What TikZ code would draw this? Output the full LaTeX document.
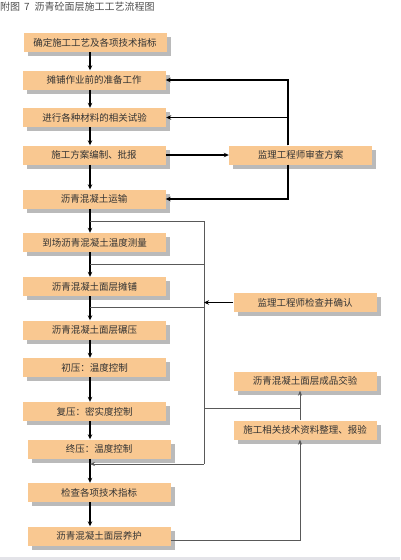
\documentclass[tikz,border=0pt]{standalone}
\usepackage{fontspec}
\setmainfont{Noto Sans CJK SC}
\usetikzlibrary{arrows.meta,shadows}
\definecolor{peach}{HTML}{F9C891}
\definecolor{ink}{HTML}{333333}

\begin{document}
\begin{tikzpicture}[x=1pt, y=-1pt,
    box/.style={fill=peach, text=ink, minimum width=143pt, minimum height=19pt, inner sep=0pt,
        font=\fontsize{9.5}{11}\selectfont,
        drop shadow={shadow xshift=4pt, shadow yshift=-4pt, fill=black!27, opacity=1}},
    main/.style={line width=1.3pt, -{Stealth[length=5pt,width=4.5pt]}},
    thin/.style={draw=black!65, line width=0.6pt}]
    \useasboundingbox (0,0) rectangle (400,560);
    \fill [fill=blue!8!gray!20] (0,557) rectangle (400,560);
    \node [anchor=west, text=black!70, inner sep=0pt, font=\fontsize{10}{12}\selectfont] (title) at (0,7) {附图\hspace{4pt}7\hspace{5pt}沥青砼面层施工工艺流程图};
    % main flow
    \node [box] (set)   at (95,42.5)  {确定施工工艺及各项技术指标};
    \node [box] (prep)  at (94,80)    {摊铺作业前的准备工作};
    \node [box] (test)  at (94.5,117.5) {进行各种材料的相关试验};
    \node [box] (plan)  at (94,155)   {施工方案编制、批报};
    \node [box] (haul)  at (94,199)   {沥青混凝土运输};
    \node [box] (temp)  at (94.5,242.5) {到场沥青混凝土温度测量};
    \node [box] (pave)  at (94.5,286.5) {沥青混凝土面层摊铺};
    \node [box] (roll)  at (94.5,330) {沥青混凝土面层碾压};
    \node [box] (init)  at (94.5,367.5) {初压：温度控制};
    \node [box] (rerl)  at (94.5,411.5) {复压：密实度控制};
    \node [box] (fin)   at (99,449)   {终压：温度控制};
    \node [box] (check) at (99,492.5) {检查各项技术指标};
    \node [box] (cure)  at (99,536)   {沥青混凝土面层养护};
    % side boxes
    \node [box] (review)  at (300.5,155) {监理工程师审查方案};
    \node [box] (confirm) at (305,302.5) {监理工程师检查并确认};
    \node [box] (accept)  at (305,381)   {沥青混凝土面层成品交验};
    \node [box] (docs)    at (305,430)   {施工相关技术资料整理、报验};
    \coordinate (axis) at (90,0);
    \coordinate (rv) at (288,0);
    \coordinate (bus) at (204,0);
    \coordinate (cr) at (300,540);
    \foreach \a/\b in {set/prep,prep/test,test/plan,plan/haul,haul/temp,temp/pave,pave/roll,
        roll/init,init/rerl,rerl/fin,fin/check,check/cure}
        \draw [main] (\a.south -| axis) -- (\b.north -| axis);
    \draw [main] (plan) -- (review);
    \draw [main] (review.north -| rv) |- (prep.east);
    \draw [main] (review.north -| rv) |- (test.east);
    \draw [main] (review.south -| rv) |- (haul.east);
    \foreach \y in {221,264,307}
        \draw [thin] (axis |- 0,\y) -- (bus |- 0,\y);
    \draw [thin] (bus |- 0,221) -- (bus |- 0,464);
    \draw [thin, -{Stealth[length=5pt,width=4pt]}] (bus |- 0,464) -- (axis |- 0,464);
    \draw [main] (confirm) -- (bus |- confirm);
    \draw [thin] (bus |- 0,408) -- (cr |- 0,408);
    \draw [thin, -{Stealth[length=5pt,width=4pt]}] (docs.north -| cr) -- (accept.south -| cr);
    \draw [thin, -{Stealth[length=5pt,width=4pt]}] (cure.east |- cr) -- (cr) -- (docs.south -| cr);
\end{tikzpicture}
\end{document}
